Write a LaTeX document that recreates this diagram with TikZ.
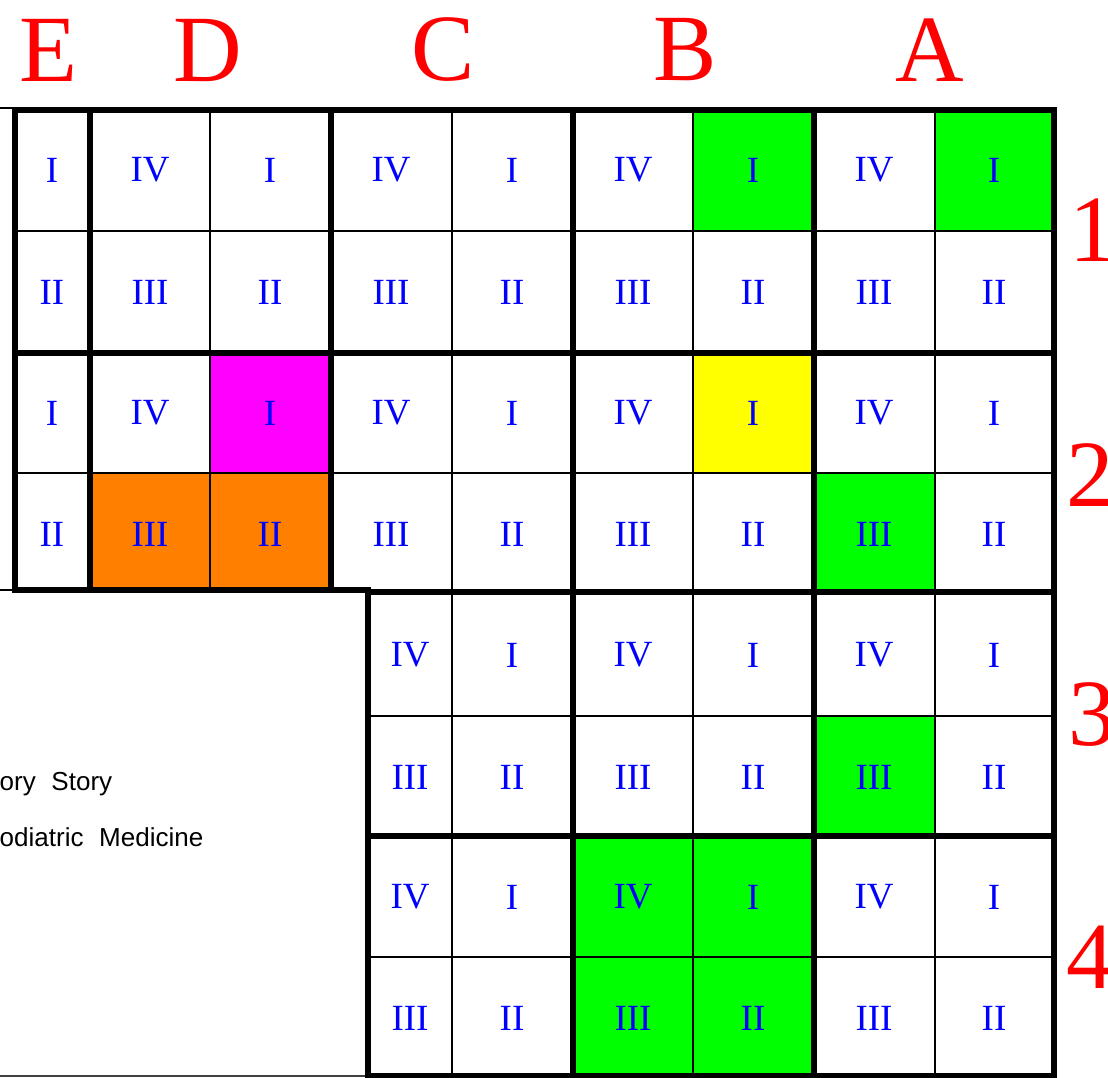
\documentclass[tikz,border=0pt]{standalone}
\usepackage{fontspec}
\usepackage{xcolor}
\usetikzlibrary{positioning}
\newfontfamily\romanfont{Liberation Serif}
\newfontfamily\plotfont{Liberation Sans}
\definecolor{bayGreen}{HTML}{00FF00}
\definecolor{bayMagenta}{HTML}{FF00FF}
\definecolor{bayOrange}{HTML}{FF8000}
\definecolor{bayYellow}{HTML}{FFFF00}
\definecolor{bayBlue}{HTML}{0000FF}
\definecolor{bayRed}{HTML}{FF0000}

\begin{document}
\begin{tikzpicture}[
  x=0.01cm,y=-0.01cm,
  numeral/.style={text=bayBlue,inner sep=0pt,font=\romanfont\fontsize{10.5}{11}\selectfont},
  zone/.style={text=bayRed,inner sep=0pt,font=\romanfont\fontsize{27}{27}\selectfont},
  note/.style={anchor=base west,inner sep=0pt,font=\plotfont\fontsize{7.4}{8}\selectfont},
  heavy/.style={line width=1.45pt},
  light/.style={line width=0.6pt},
]
\useasboundingbox[fill=white] (0,0) rectangle (1108,1078);

% highlighted cells
\fill[bayGreen]   (693,110) rectangle (814,231);
\fill[bayGreen]   (935,110) rectangle (1054,231);
\fill[bayMagenta] (210,353) rectangle (331,473);
\fill[bayOrange]  (90,473)  rectangle (331,592);
\fill[bayYellow]  (693,353) rectangle (814,473);
\fill[bayGreen]   (814,473) rectangle (935,592);
\fill[bayGreen]   (814,716) rectangle (935,836);
\fill[bayGreen]   (573,836) rectangle (814,1076);

% thin grid
\draw[light] (15,231) -- (1054,231);
\draw[light] (15,473) -- (1054,473);
\draw[light] (368,716) -- (1054,716);
\draw[light] (368,957) -- (1054,957);
\draw[light] (210,110) -- (210,590);
\foreach \gx in {452,693,935}
  \draw[light] (\gx,110) -- (\gx,1076);

% outside ticks
\draw[light] (0,108) -- (15,108);
\draw[light] (0,590) -- (15,590);
\draw[light,draw=black!75] (0,1076) -- (368,1076);

% heavy block lines
\draw[heavy] (15,353) -- (1054,353);
\draw[heavy] (368,836) -- (1054,836);
\draw[heavy] (368,592) -- (1054,592);
\foreach \gx in {90,331}
  \draw[heavy] (\gx,110) -- (\gx,590);
\foreach \gx in {573,814}
  \draw[heavy] (\gx,110) -- (\gx,1076);
\draw[heavy,line join=miter] (15,110) -- (1054,110) -- (1054,1076) -- (368,1076)
  -- (368,590) -- (15,590) -- cycle;

% quarter numerals
\foreach \top/\bot in {170/292,413/534} {
  \node[numeral] (e-\top) at (52,\top) {I};
  \node[numeral] (e-\bot) at (52,\bot) {II};
  \foreach \lx/\rx in {150/270,391/512,633/753,874/994} {
    \node[numeral] (q-\lx-\top) at (\lx,\top) {IV};
    \node[numeral] (q-\rx-\top) at (\rx,\top) {I};
    \node[numeral] (q-\lx-\bot) at (\lx,\bot) {III};
    \node[numeral] (q-\rx-\bot) at (\rx,\bot) {II};
  }
}
\foreach \top/\bot in {655/777,897/1018} {
  \foreach \lx/\rx in {410/512,633/753,874/994} {
    \node[numeral] (q-\lx-\top) at (\lx,\top) {IV};
    \node[numeral] (q-\rx-\top) at (\rx,\top) {I};
    \node[numeral] (q-\lx-\bot) at (\lx,\bot) {III};
    \node[numeral] (q-\rx-\bot) at (\rx,\bot) {II};
  }
}

% column and row keys
\node[zone] (colE) at (48,50)  {E};
\node[zone] (colD) at (208,50) {D};
\node[zone] (colC) at (443,50) {C};
\node[zone] (colB) at (685,50) {B};
\node[zone] (colA) at (930,50) {A};
\node[zone] (row1) at (1093,230) {1};
\node[zone] (row2) at (1090,475) {2};
\node[zone] (row3) at (1092,715) {3};
\node[zone] (row4) at (1090,957) {4};

% legend remnants
\node[note] (legStory) at (-1,790) {ory\hspace{0.6em}Story};
\node[note] (legPod)   at (-1,846) {odiatric\hspace{0.6em}Medicine};

\end{tikzpicture}
\end{document}
